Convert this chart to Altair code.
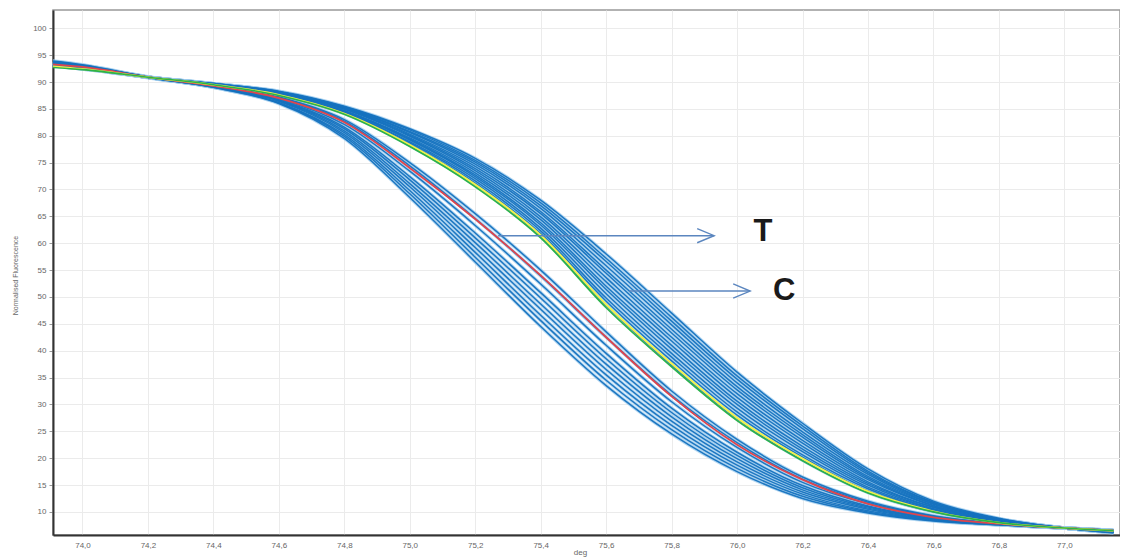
import altair as alt
import pandas as pd

# temperature grid (deg) at which each curve was read
x_vals = [73.91, 74.0, 74.2, 74.4, 74.6, 74.8, 75.0, 75.2, 75.4, 75.6, 75.8, 76.0, 76.2, 76.4, 76.6, 76.8, 77.0, 77.15]

# left cluster (T genotype), blue curves
blue_T = [
    [93.9, 93.2, 90.9, 89.0, 86.0, 79.5, 68.5, 56.5, 44.5, 33.5, 24.5, 17.5, 12.5, 9.8, 8.3, 7.6, 7.0, 6.6],
    [93.8, 93.1, 90.9, 89.0, 86.1, 79.9, 69.2, 57.4, 45.6, 34.5, 25.3, 18.1, 12.9, 10.0, 8.4, 7.6, 7.0, 6.6],
    [93.6, 93.0, 90.8, 89.1, 86.2, 80.2, 69.8, 58.3, 46.6, 35.5, 26.1, 18.7, 13.3, 10.2, 8.5, 7.6, 7.0, 6.6],
    [93.7, 93.0, 90.9, 89.1, 86.4, 80.6, 70.5, 59.2, 47.7, 36.5, 26.9, 19.3, 13.7, 10.5, 8.6, 7.7, 7.0, 6.5],
    [93.5, 92.9, 90.9, 89.1, 86.5, 80.9, 71.1, 60.1, 48.7, 37.5, 27.7, 19.9, 14.1, 10.7, 8.7, 7.7, 7.0, 6.5],
    [93.6, 92.9, 90.9, 89.2, 86.6, 81.3, 71.8, 61.0, 49.8, 38.5, 28.5, 20.5, 14.5, 10.9, 8.8, 7.7, 7.0, 6.5],
    [93.4, 92.8, 90.9, 89.2, 86.7, 81.6, 72.4, 61.9, 50.8, 39.5, 29.3, 21.1, 14.9, 11.1, 8.9, 7.7, 7.0, 6.5],
    [93.5, 92.9, 91.0, 89.2, 86.9, 82.1, 73.4, 63.3, 52.4, 41.0, 30.5, 22.0, 15.5, 11.5, 9.1, 7.8, 7.0, 6.5],
    [93.3, 92.8, 90.9, 89.3, 87.1, 82.7, 74.4, 64.6, 53.9, 42.5, 31.7, 22.9, 16.1, 11.8, 9.2, 7.8, 7.0, 6.4],
    [93.4, 92.8, 90.9, 89.3, 87.2, 83.0, 75.0, 65.5, 55.0, 43.5, 32.5, 23.5, 16.5, 12.0, 9.3, 7.8, 7.0, 6.4],
]

# right cluster (C genotype), blue curves
blue_C = [
    [93.1, 92.5, 90.9, 89.5, 87.5, 84.1, 78.2, 70.8, 61.3, 48.4, 37.3, 27.3, 19.6, 13.6, 10.0, 8.0, 7.0, 6.5],
    [93.5, 92.8, 90.9, 89.5, 87.6, 84.2, 78.4, 71.2, 61.8, 49.2, 38.1, 28.0, 20.2, 13.9, 10.2, 8.1, 7.0, 6.5],
    [93.2, 92.6, 90.9, 89.5, 87.6, 84.3, 78.7, 71.6, 62.3, 49.8, 38.8, 28.6, 20.6, 14.3, 10.3, 8.1, 7.0, 6.4],
    [93.7, 92.9, 90.9, 89.5, 87.7, 84.4, 78.9, 72.0, 62.8, 50.6, 39.5, 29.3, 21.2, 14.6, 10.5, 8.2, 7.0, 6.4],
    [93.0, 92.5, 90.9, 89.6, 87.7, 84.5, 79.2, 72.4, 63.4, 51.4, 40.3, 30.0, 21.7, 15.0, 10.6, 8.2, 7.0, 6.4],
    [93.4, 92.7, 90.9, 89.6, 87.8, 84.6, 79.4, 72.7, 63.8, 52.0, 41.0, 30.6, 22.2, 15.3, 10.8, 8.3, 7.0, 6.3],
    [93.6, 92.8, 90.9, 89.6, 87.9, 84.7, 79.6, 73.1, 64.4, 52.8, 41.8, 31.3, 22.8, 15.6, 10.9, 8.4, 7.0, 6.3],
    [93.1, 92.5, 90.9, 89.6, 87.9, 84.9, 79.9, 73.5, 64.9, 53.6, 42.5, 32.0, 23.3, 16.0, 11.1, 8.4, 7.0, 6.3],
    [93.3, 92.6, 90.9, 89.6, 88.0, 85.0, 80.1, 73.9, 65.5, 54.4, 43.3, 32.7, 23.9, 16.3, 11.2, 8.5, 7.0, 6.3],
    [93.8, 93.0, 90.9, 89.6, 88.1, 85.1, 80.3, 74.3, 65.9, 55.0, 44.0, 33.3, 24.4, 16.6, 11.4, 8.6, 7.0, 6.2],
    [93.0, 92.4, 90.9, 89.7, 88.1, 85.2, 80.6, 74.7, 66.5, 55.8, 44.8, 34.0, 24.9, 17.0, 11.5, 8.6, 7.0, 6.2],
    [93.5, 92.7, 90.9, 89.7, 88.2, 85.3, 80.8, 75.1, 67.0, 56.6, 45.5, 34.7, 25.5, 17.3, 11.7, 8.7, 7.0, 6.2],
    [93.2, 92.6, 90.9, 89.7, 88.2, 85.4, 81.1, 75.4, 67.5, 57.2, 46.2, 35.3, 26.0, 17.6, 11.8, 8.7, 7.0, 6.1],
    [93.0, 92.4, 90.9, 89.7, 88.3, 85.5, 81.3, 75.8, 68.0, 58.0, 47.0, 36.0, 26.5, 18.0, 12.0, 8.8, 7.0, 6.1],
]

red_curve = [93.3, 92.8, 90.9, 89.3, 87.0, 82.5, 74.0, 64.5, 54.0, 42.5, 31.5, 22.5, 16.0, 11.5, 9.0, 7.8, 7.0, 6.5]
yellow_curve = [92.9, 92.4, 90.9, 89.5, 87.6, 84.1, 78.3, 70.9, 61.5, 48.6, 37.6, 27.5, 19.9, 13.8, 10.1, 8.0, 7.0, 6.5]
green_curve = [92.7, 92.3, 90.9, 89.5, 87.5, 84.0, 78.0, 70.5, 61.0, 48.0, 37.0, 27.0, 19.5, 13.5, 10.0, 8.0, 7.0, 6.5]

# annotations: arrows and genotype labels
arrow_labels = ["T", "C"]
arrow_x_start = [75.27, 75.67]
arrow_x_end = [75.93, 76.04]
arrow_y = [61.4, 51.1]
label_x = [76.05, 76.11]
label_y = [62.0, 51.2]

x_ticks = [74.0, 74.2, 74.4, 74.6, 74.8, 75.0, 75.2, 75.4, 75.6, 75.8, 76.0, 76.2, 76.4, 76.6, 76.8, 77.0]
y_ticks = [10, 15, 20, 25, 30, 35, 40, 45, 50, 55, 60, 65, 70, 75, 80, 85, 90, 95, 100]


def long_table(curves, prefix):
    rows = []
    for i, c in enumerate(curves):
        for x, y in zip(x_vals, c):
            rows.append({"deg": x, "fl": y, "curve": f"{prefix}{i}"})
    return pd.DataFrame(rows)


blue_df = pd.concat([long_table(blue_T, "T"), long_table(blue_C, "C")], ignore_index=True)
red_df = long_table([red_curve], "red")
yellow_df = long_table([yellow_curve], "yel")
green_df = long_table([green_curve], "grn")
ann_df = pd.DataFrame({"lab": arrow_labels, "x0": arrow_x_start, "x1": arrow_x_end,
                       "y": arrow_y, "lx": label_x, "ly": label_y})

xscale = alt.Scale(domain=[73.91, 77.17], nice=False, zero=False)
yscale = alt.Scale(domain=[5.7, 103.4], nice=False, zero=False)

xaxis = alt.Axis(values=x_ticks, title="deg", labelExpr="replace(format(datum.value, '.1f'), '.', ',')",
                 labelFontSize=8, labelColor="#666666", labelFont="Liberation Sans", labelOverlap=False,
                 tickSize=0, labelPadding=6, domainColor="#333333", domainWidth=2,
                 gridColor="#ebebeb", titleFontSize=8, titleFontWeight="normal", titleColor="#666666",
                 titleFont="Liberation Sans", titleX=527, titleY=13, titleBaseline="top")
yaxis = alt.Axis(values=y_ticks, title="Normalised Fluorescence", labelFontSize=8, labelColor="#666666",
                 labelExpr="format(datum.value, 'd')",
                 labelFont="Liberation Sans", labelOverlap=False, tickSize=4, tickColor="#999999",
                 labelPadding=3, domainColor="#333333", domainWidth=2, gridColor="#ebebeb",
                 titleFontSize=7, titleFontWeight="normal", titleColor="#666666", titleFont="Liberation Sans",
                 titleX=-35, titleY=265)


def enc_x(field="deg"):
    return alt.X(f"{field}:Q", scale=xscale, axis=xaxis)


def enc_y(field="fl"):
    return alt.Y(f"{field}:Q", scale=yscale, axis=yaxis)


halo = alt.Chart(blue_df).mark_line(interpolate="monotone", color="#9ccbee", strokeWidth=3.5, opacity=0.75).encode(
    x=enc_x(), y=enc_y(), detail="curve:N")
blue = alt.Chart(blue_df).mark_line(interpolate="monotone", color="#1572bf", strokeWidth=1.5, opacity=0.95).encode(
    x=enc_x(), y=enc_y(), detail="curve:N")
red = alt.Chart(red_df).mark_line(interpolate="monotone", color="#e0454d", strokeWidth=1.8).encode(
    x=enc_x(), y=enc_y())
yellow = alt.Chart(yellow_df).mark_line(interpolate="monotone", color="#f2f24a", strokeWidth=2).encode(
    x=enc_x(), y=enc_y())
green = alt.Chart(green_df).mark_line(interpolate="monotone", color="#2bb34a", strokeWidth=1.6).encode(
    x=enc_x(), y=enc_y())

arrows = alt.Chart(ann_df).mark_rule(color="#5b86bf", strokeWidth=1.4).encode(
    x=enc_x("x0"), x2="x1:Q", y=enc_y("y"))
heads = alt.Chart(ann_df).mark_point(shape="M-2.4,-1L0,0L-2.4,1", filled=False, color="#5b86bf",
                                     strokeWidth=1.4, size=200, opacity=1).encode(x=enc_x("x1"), y=enc_y("y"))
labels = alt.Chart(ann_df).mark_text(fontSize=31, fontWeight="bold", font="Liberation Sans",
                                     color="#1a1a1a", align="left", baseline="middle").encode(
    x=enc_x("lx"), y=enc_y("ly"), text="lab:N")

chart = alt.layer(halo, blue, red, yellow, green, arrows, heads, labels).properties(
    width=1067, height=525,
    padding={"left": 45, "top": 2, "right": 0, "bottom": 22},
    autosize=alt.AutoSizeParams(type="none"),
).configure_view(stroke="#999999", strokeWidth=1.5).configure_axis(gridWidth=1, labelOverlap=False)

chart.save("out.html", embed_options={"renderer": "svg", "actions": False})
